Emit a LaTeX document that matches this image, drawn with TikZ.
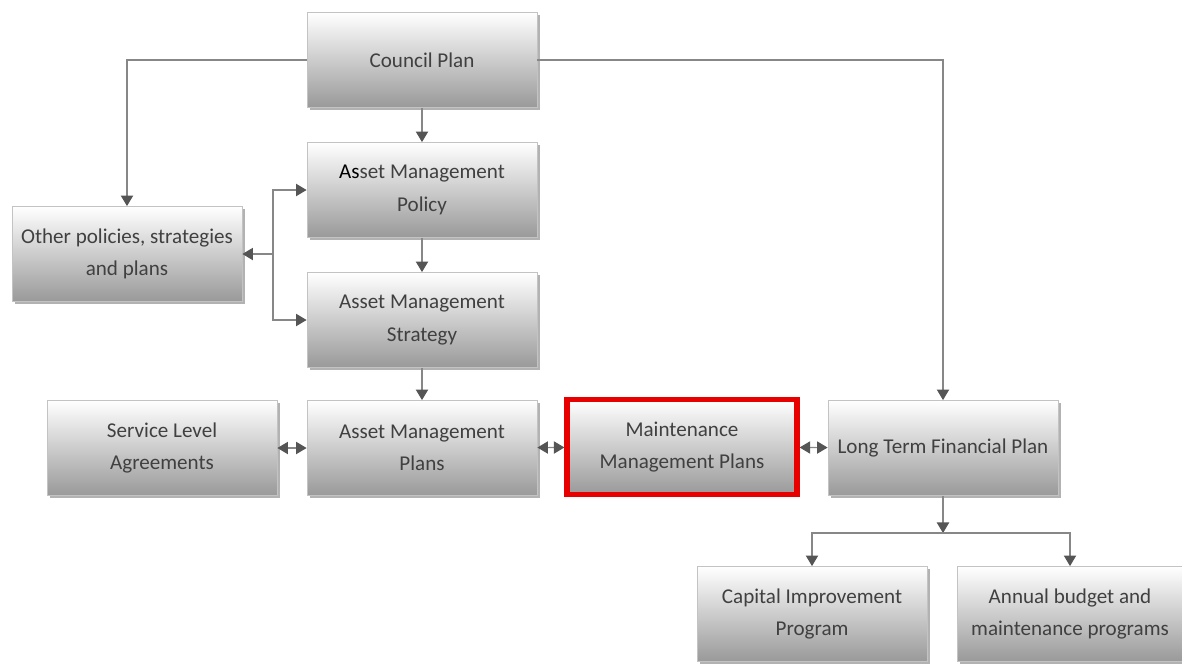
\documentclass[tikz,border=0pt]{standalone}
\usepackage{xcolor}
\usepackage{fontspec}
\setmainfont{Carlito}
\usepackage{tikz}
\definecolor{boxtext}{RGB}{64,64,64}
\definecolor{boxline}{RGB}{195,195,195}
\definecolor{linkgray}{RGB}{135,135,135}
\definecolor{tipgray}{RGB}{85,85,85}
\definecolor{planred}{RGB}{232,0,0}
\usetikzlibrary{arrows.meta,shadows,calc}

\begin{document}
\begin{tikzpicture}[x=0.02cm, y=-0.02cm,
    plan/.style={draw=boxline, line width=0.5pt, top color=white, bottom color=black!40,
        minimum width=4.6cm, minimum height=1.9cm, align=center, text=boxtext,
        font=\fontsize{12}{18.5}\selectfont,
        drop shadow={shadow xshift=1.5pt, shadow yshift=-1.5pt, opacity=0.3, fill=black}},
    focus/.style={plan, draw=planred, line width=3pt},
    link/.style={draw=linkgray, line width=0.6pt, -{Triangle[length=6pt,width=7pt,color=tipgray]}},
    both/.style={draw=linkgray, line width=0.6pt,
        {Triangle[length=6pt,width=7pt,color=tipgray]}-{Triangle[length=6pt,width=7pt,color=tipgray]}}]
    \useasboundingbox (0,0) rectangle (1182,664);
    % Main column
    \node[plan] (council) at (422,60) {Council Plan};
    \node[plan] (policy) at (422,190) {{\color{black}As}set Management\\Policy};
    \node[plan] (strategy) at (422,320) {Asset Management\\Strategy};
    \node[plan] (other) at (127,254) {Other policies, strategies\\and plans};
    % Plans row
    \node[plan] (sla) at (162,448) {Service Level\\Agreements};
    \node[plan] (amplans) at (422,448) {Asset Management\\Plans};
    \node[focus] (mmp) at (682,447) {Maintenance\\Management Plans};
    \node[plan] (ltfp) at (943,448) {Long Term Financial Plan};
    % Programs
    \node[plan] (capital) at (812,614) {Capital Improvement\\Program};
    \node[plan, minimum width=4.5cm] (annual) at (1070,614) {Annual budget and\\maintenance programs};
    % Connectors
    \draw[link] (council) -- (policy);
    \draw[link] (policy) -- (strategy);
    \draw[link] (strategy) -- (amplans);
    \draw[link] (council.west) -| (other.north);
    \draw[link] (council.east) -| (ltfp.north);
    \coordinate (fork) at (273,254);
    \draw[link] (fork) -- (other.east);
    \draw[link] (fork) |- (policy.west);
    \draw[link] (fork) |- (strategy.west);
    \draw[both] (sla) -- (amplans);
    \draw[both] (amplans) -- (mmp);
    \draw[both] (mmp) -- (ltfp);
    \coordinate (split) at (943,533);
    \draw[link] (ltfp) -- (split);
    \draw[link] (split) -| (capital.north);
    \draw[link] (split) -| (annual.north);
\end{tikzpicture}
\end{document}
